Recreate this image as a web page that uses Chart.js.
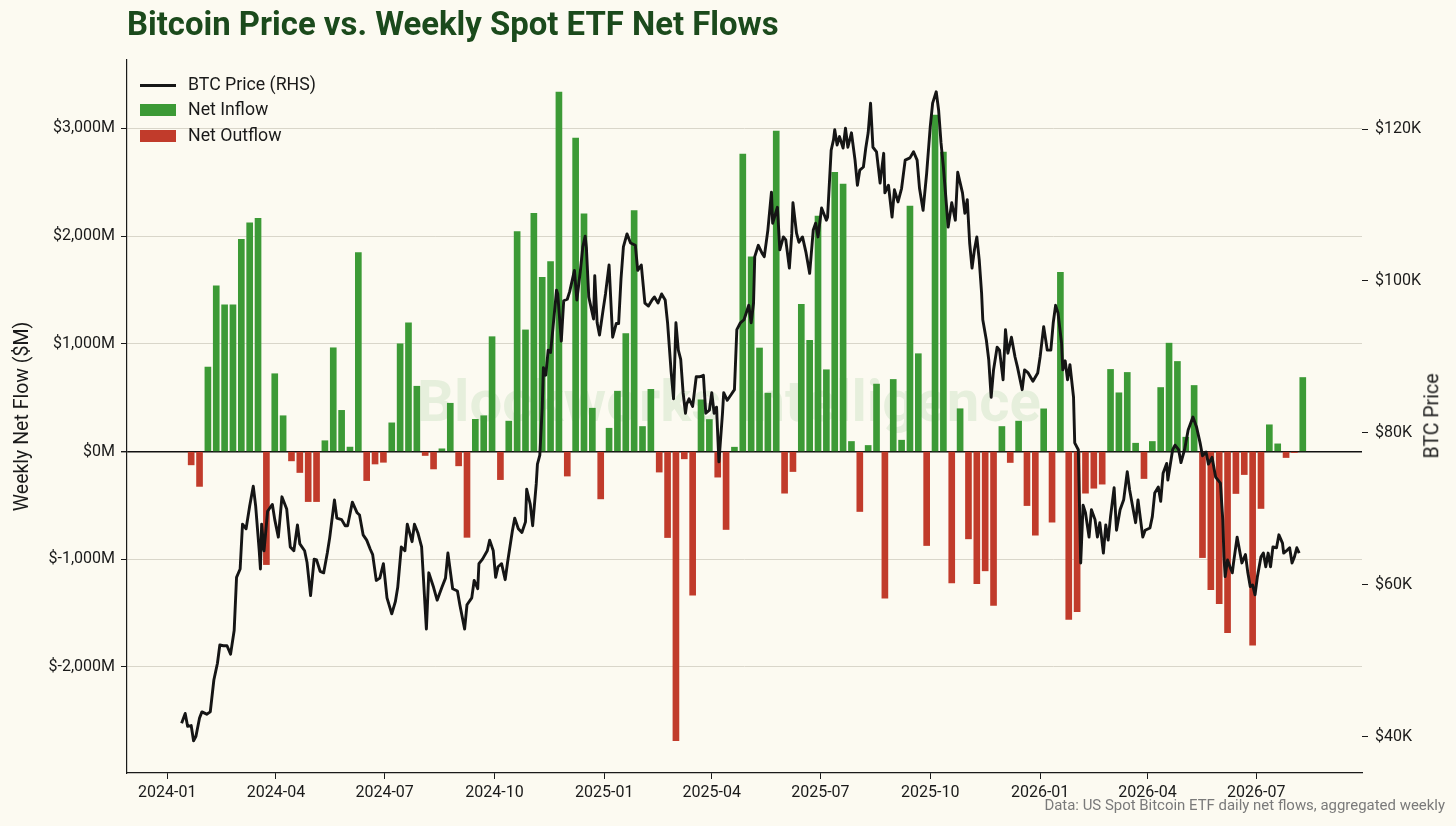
<!DOCTYPE html>
<html>
<head>
<meta charset="utf-8">
<title>Bitcoin Price vs. Weekly Spot ETF Net Flows</title>
<script src="https://cdn.jsdelivr.net/npm/chart.js@4.4.1/dist/chart.umd.min.js"></script>
<style>
  html, body { margin: 0; padding: 0; background: #fcfaf1; }
  #wrap { position: relative; width: 1456px; height: 826px; overflow: hidden; font-family: Roboto, "DejaVu Sans", sans-serif; color: #1a1a1a; }
  #wrap canvas { position: absolute; left: 0; top: 0; }
  .t { position: absolute; white-space: nowrap; line-height: 1; }
  #title { font-weight: 700; color: #1b4a1c; font-size: 28px; }
  #mark { font-weight: 700; color: rgba(70, 165, 70, 0.12); font-size: 48px; }
  #source { color: #7a7a7a; font-size: 14px; }
  .leg { font-size: 17px; }
  .sw { position: absolute; left: 140px; width: 36px; }
  #ylab2 { font-size: 19.5px; left: 1432px; top: 416px; transform: translate(-50%, -50%) rotate(-90deg); }
</style>
</head>
<body>
<div id="wrap">
  <div class="t" id="mark">Blockworks Intelligence</div>
  <canvas id="c" width="1456" height="826"></canvas>
  <div class="t" id="title">Bitcoin Price vs. Weekly Spot ETF Net Flows</div>
  <div class="sw" style="top:83.5px;height:3px;background:#161616"></div>
  <div class="sw" style="top:104px;height:12px;background:#3c9a36"></div>
  <div class="sw" style="top:130px;height:12px;background:#c13b2b"></div>
  <div class="t leg" id="leg1">BTC Price (RHS)</div>
  <div class="t leg" id="leg2">Net Inflow</div>
  <div class="t leg" id="leg3">Net Outflow</div>
  <div class="t" id="ylab2">BTC Price</div>
  <div class="t" id="source">Data: US Spot Bitcoin ETF daily net flows, aggregated weekly</div>
</div>
<script>
// x-axis tick labels (quarter starts)
const dateTicks = ['2024-01', '2024-04', '2024-07', '2024-10', '2025-01', '2025-04',
                   '2025-07', '2025-10', '2026-01', '2026-04', '2026-07'];
const flowTicks = [-2000, -1000, 0, 1000, 2000, 3000];   // $M
const priceTicks = [40, 60, 80, 100, 120];               // $K

// weekly net flows, $M, one per week starting from firstWeek
const firstWeek = '2024-01-21';
const weeklyFlows = [
  -124, -324, 784, 1539, 1361, 1361, 1971, 2124, 2166, -1050,
  722, 332, -87, -195, -465, -465, 100, 963, 382, 41,
  1846, -270, -116, -100, 266, 1000, 1195, 606, -37, -162,
  25, 448, -133, -797, 299, 332, 1066, -261, 282, 2041,
  1129, 2212, 1618, 1763, 3336, -228, 2909, 2207, 402, -440,
  216, 560, 1095, 2237, 232, 577, -191, -799, -2684, -68,
  -1334, 480, 297, -238, -724, 40, 2761, 1807, 961, 542,
  2975, -387, -186, 1367, 1032, 2185, 759, 2591, 2482, 93,
  -557, 56, 626, -1362, 669, 105, 2278, 908, -873, 3124,
  2780, -1220, 397, -811, -1226, -1108, -1430, 232, -102, 282,
  -502, -777, 396, -656, 1663, -1560, -1486, -387, -341, -303,
  762, 545, 734, 77, -251, 93, 594, 1006, 836, 133,
  613, -985, -1282, -1412, -1681, -390, -214, -1799, -529, 248,
  71, -56, -10, 687
];

// BTC price, $K
const priceDates = [
  '2024-01-13','2024-01-16','2024-01-18','2024-01-21','2024-01-23','2024-01-25','2024-01-28','2024-01-30',
  '2024-02-03','2024-02-06','2024-02-09','2024-02-12','2024-02-14','2024-02-17','2024-02-20','2024-02-23','2024-02-26','2024-02-28',
  '2024-03-02','2024-03-04','2024-03-07','2024-03-10','2024-03-13','2024-03-15','2024-03-18','2024-03-19','2024-03-20','2024-03-22','2024-03-25','2024-03-29','2024-03-31',
  '2024-04-03','2024-04-06','2024-04-10','2024-04-13','2024-04-16','2024-04-19','2024-04-21','2024-04-25','2024-04-27','2024-04-30',
  '2024-05-03','2024-05-05','2024-05-08','2024-05-11','2024-05-14','2024-05-16','2024-05-20','2024-05-22','2024-05-26','2024-05-29','2024-05-31',
  '2024-06-04','2024-06-08','2024-06-10','2024-06-13','2024-06-16','2024-06-19','2024-06-21','2024-06-24','2024-06-27','2024-06-30',
  '2024-07-03','2024-07-07','2024-07-10','2024-07-12','2024-07-15','2024-07-18','2024-07-20','2024-07-24','2024-07-26','2024-07-29',
  '2024-08-01','2024-08-05','2024-08-07','2024-08-11','2024-08-14','2024-08-18','2024-08-21','2024-08-23','2024-08-27','2024-08-31',
  '2024-09-02','2024-09-06','2024-09-08','2024-09-12','2024-09-14','2024-09-17','2024-09-18','2024-09-21','2024-09-25','2024-09-27','2024-09-30',
  '2024-10-02','2024-10-04','2024-10-07','2024-10-10','2024-10-12','2024-10-16','2024-10-18','2024-10-21','2024-10-24','2024-10-27','2024-10-28','2024-10-31',
  '2024-11-02','2024-11-05','2024-11-06','2024-11-08','2024-11-10','2024-11-11','2024-11-13','2024-11-15','2024-11-17','2024-11-19','2024-11-22','2024-11-23','2024-11-26','2024-11-28',
  '2024-12-01','2024-12-03','2024-12-07','2024-12-09','2024-12-12','2024-12-14','2024-12-16','2024-12-17','2024-12-19','2024-12-23','2024-12-24','2024-12-26','2024-12-28','2024-12-31',
  '2025-01-02','2025-01-05','2025-01-07','2025-01-08','2025-01-11','2025-01-13','2025-01-15','2025-01-17','2025-01-20','2025-01-23','2025-01-27','2025-01-29',
  '2025-02-01','2025-02-04','2025-02-07','2025-02-10','2025-02-12','2025-02-15','2025-02-18','2025-02-21','2025-02-23','2025-02-26','2025-02-28',
  '2025-03-02','2025-03-04','2025-03-06','2025-03-08','2025-03-10','2025-03-11','2025-03-13','2025-03-16','2025-03-19','2025-03-22','2025-03-25','2025-03-27','2025-03-30',
  '2025-04-01','2025-04-03','2025-04-05','2025-04-07','2025-04-10','2025-04-11','2025-04-14','2025-04-17','2025-04-20','2025-04-22','2025-04-25','2025-04-28',
  '2025-05-02','2025-05-04','2025-05-06','2025-05-07','2025-05-10','2025-05-13','2025-05-15','2025-05-18','2025-05-21','2025-05-22','2025-05-26','2025-05-28','2025-05-31',
  '2025-06-02','2025-06-05','2025-06-07','2025-06-08','2025-06-11','2025-06-13','2025-06-16','2025-06-19','2025-06-22','2025-06-25','2025-06-27','2025-06-29',
  '2025-07-02','2025-07-06','2025-07-07','2025-07-10','2025-07-12','2025-07-13','2025-07-15','2025-07-17','2025-07-20','2025-07-22','2025-07-24','2025-07-27','2025-07-30',
  '2025-08-01','2025-08-03','2025-08-06','2025-08-08','2025-08-10','2025-08-12','2025-08-14','2025-08-17','2025-08-20','2025-08-23','2025-08-24','2025-08-27','2025-08-30',
  '2025-09-01','2025-09-04','2025-09-07','2025-09-10','2025-09-14','2025-09-17','2025-09-20','2025-09-22','2025-09-25','2025-09-28',
  '2025-10-01','2025-10-03','2025-10-06','2025-10-08','2025-10-10','2025-10-12','2025-10-14','2025-10-16','2025-10-19','2025-10-22','2025-10-24','2025-10-28','2025-10-30',
  '2025-11-01','2025-11-03','2025-11-05','2025-11-07','2025-11-09','2025-11-11','2025-11-13','2025-11-14','2025-11-17','2025-11-19','2025-11-21','2025-11-23','2025-11-26','2025-11-28',
  '2025-12-01','2025-12-03','2025-12-05','2025-12-08','2025-12-11','2025-12-13','2025-12-17','2025-12-19','2025-12-22','2025-12-26','2025-12-30',
  '2026-01-01','2026-01-04','2026-01-07','2026-01-10','2026-01-12','2026-01-14','2026-01-16','2026-01-19','2026-01-20','2026-01-22','2026-01-24','2026-01-26','2026-01-29','2026-01-30',
  '2026-02-02','2026-02-03','2026-02-04','2026-02-06','2026-02-08','2026-02-11','2026-02-13','2026-02-16','2026-02-18','2026-02-20','2026-02-23','2026-02-25','2026-02-27',
  '2026-03-01','2026-03-04','2026-03-06','2026-03-09','2026-03-12','2026-03-15','2026-03-17','2026-03-20','2026-03-22','2026-03-24','2026-03-28','2026-03-30',
  '2026-04-03','2026-04-05','2026-04-07','2026-04-10','2026-04-12','2026-04-14','2026-04-17','2026-04-18','2026-04-22','2026-04-24','2026-04-27','2026-04-29',
  '2026-05-02','2026-05-05','2026-05-09','2026-05-12','2026-05-15','2026-05-17','2026-05-20','2026-05-22','2026-05-25','2026-05-28','2026-05-30',
  '2026-06-01','2026-06-03','2026-06-04','2026-06-05','2026-06-07','2026-06-09','2026-06-11','2026-06-12','2026-06-15','2026-06-17','2026-06-19','2026-06-22','2026-06-24','2026-06-26','2026-06-28','2026-06-30',
  '2026-07-02','2026-07-05','2026-07-07','2026-07-09','2026-07-11','2026-07-13','2026-07-15','2026-07-18','2026-07-20','2026-07-23','2026-07-24','2026-07-27','2026-07-29','2026-07-31',
  '2026-08-02','2026-08-04','2026-08-06'
];
const priceK = [
  41.8, 43.1, 41.4, 41.5, 39.5, 40.1, 42.5, 43.3,
  43.0, 43.3, 47.5, 49.7, 52.1, 52.0, 52.0, 50.9, 54.0, 61.0,
  62.1, 68.0, 67.4, 70.4, 73.0, 70.4, 64.5, 62.1, 68.0, 64.5, 69.7, 70.6, 68.6,
  66.3, 71.6, 70.0, 65.0, 64.5, 67.9, 65.4, 64.5, 63.0, 58.6,
  63.4, 63.3, 61.8, 61.6, 64.2, 66.2, 71.2, 68.8, 68.6, 67.8, 67.8,
  70.9, 69.5, 69.2, 66.6, 65.9, 64.7, 64.0, 60.6, 60.9, 62.8,
  58.3, 56.2, 57.8, 59.7, 65.0, 64.5, 68.0, 65.7, 68.0, 66.8,
  65.0, 54.2, 61.6, 59.7, 58.0, 59.7, 60.9, 64.2, 59.5, 59.2,
  57.4, 54.2, 57.4, 58.3, 60.6, 59.5, 62.8, 63.4, 64.5, 65.9, 64.5,
  61.0, 62.4, 62.8, 60.7, 63.0, 67.1, 68.8, 67.4, 66.9, 68.3, 72.6, 70.6,
  67.8, 73.3, 75.9, 77.1, 83.3, 88.6, 87.6, 90.9, 90.6, 93.8, 98.8, 98.3, 92.1, 97.4,
  97.6, 98.6, 101.4, 97.5, 101.4, 104.5, 105.9, 104.4, 97.9, 95.0, 100.7, 94.5, 92.9, 96.2,
  98.3, 102.1, 95.7, 92.6, 94.4, 94.4, 100.3, 104.5, 106.2, 105.0, 104.7, 101.4,
  102.1, 97.1, 96.7, 97.5, 97.9, 97.1, 98.3, 97.5, 94.5, 88.0, 84.5,
  94.5, 90.9, 89.7, 85.3, 82.6, 83.8, 84.5, 83.5, 87.4, 87.4, 87.6, 82.6, 83.0,
  85.3, 82.6, 83.4, 76.2, 82.6, 85.3, 84.3, 85.0, 85.7, 93.6, 94.5, 94.9,
  96.8, 94.5, 97.1, 103.2, 104.7, 103.7, 103.2, 106.7, 111.7, 107.6, 109.7, 104.1, 105.8,
  105.4, 101.7, 106.2, 110.3, 106.3, 105.1, 105.8, 103.7, 101.0, 106.7, 107.6, 105.8,
  109.6, 108.0, 108.4, 117.2, 118.6, 119.9, 117.9, 119.0, 117.5, 120.1, 117.6, 119.5, 115.9,
  112.6, 114.6, 115.0, 117.5, 119.5, 123.4, 117.6, 117.0, 112.9, 116.8, 111.6, 112.6, 108.4,
  112.0, 110.4, 112.2, 115.9, 116.2, 117.0, 115.9, 112.2, 109.3, 114.2,
  120.3, 123.4, 124.9, 122.5, 118.2, 115.0, 111.1, 107.1, 110.3, 108.0, 114.3, 111.6, 108.9,
  110.7, 105.0, 101.7, 104.1, 105.8, 102.8, 98.4, 94.9, 92.2, 89.6, 84.7, 88.3, 91.3, 90.9,
  87.0, 93.6, 90.5, 92.6, 90.0, 88.7, 85.7, 88.3, 87.9, 86.8, 87.9,
  90.0, 94.0, 90.9, 90.9, 94.5, 96.8, 95.8, 91.8, 88.3, 89.5, 87.0, 89.0, 84.7, 78.7,
  77.8, 70.3, 62.9, 70.5, 69.5, 66.3, 69.9, 68.6, 66.3, 68.2, 64.2, 67.9, 65.9,
  69.0, 72.8, 67.2, 69.9, 71.2, 74.9, 72.5, 69.9, 68.2, 71.2, 66.3, 67.2,
  67.5, 69.0, 72.1, 72.9, 71.0, 74.7, 76.0, 73.8, 77.8, 78.4, 77.8, 76.1,
  77.8, 80.4, 82.1, 80.8, 78.7, 77.0, 77.5, 75.9, 76.8, 74.2, 73.8,
  73.4, 68.6, 63.7, 61.1, 63.3, 62.4, 61.6, 62.9, 66.3, 64.6, 62.9, 64.0, 61.6, 59.8, 60.0, 58.7,
  61.1, 63.7, 64.2, 62.4, 64.2, 62.4, 65.0, 64.9, 66.6, 65.5, 64.2, 64.6, 64.9, 62.9,
  63.7, 64.9, 64.2
];

// dates -> days since 2024-01-01 (numeric x axis)
const DAY = 86400000;
const BASE = Date.UTC(2024, 0, 1);
const toDay = s => (Date.parse(s + 'T00:00:00Z') - BASE) / DAY;
const monthLabel = v => {
  const d = new Date(BASE + v * DAY);
  return d.getUTCFullYear() + '-' + String(d.getUTCMonth() + 1).padStart(2, '0');
};

const week0 = toDay(firstWeek);
const inflow = [], outflow = [];
weeklyFlows.forEach((v, i) => {
  const pt = { x: week0 + 7 * i, y: v };
  (v >= 0 ? inflow : outflow).push(pt);
});
const pricePoints = priceDates.map((d, i) => ({ x: toDay(d), y: priceK[i] }));

const INK = '#1a1a1a';
Chart.defaults.font.family = 'Roboto, "DejaVu Sans", sans-serif';
Chart.defaults.color = INK;

new Chart(document.getElementById('c'), {
  type: 'bar',
  data: {
    datasets: [
      {
        type: 'line', label: 'BTC Price (RHS)', data: pricePoints, yAxisID: 'yPrice',
        borderColor: '#151515', borderWidth: 2.9, pointRadius: 0, tension: 0,
        borderJoinStyle: 'round', order: 0
      },
      {
        label: 'Net Inflow', data: inflow, yAxisID: 'yFlow',
        backgroundColor: '#3c9a36', barThickness: 6, grouped: false, order: 1
      },
      {
        label: 'Net Outflow', data: outflow, yAxisID: 'yFlow',
        backgroundColor: '#c13b2b', barThickness: 6, grouped: false, order: 1
      }
    ]
  },
  options: {
    responsive: false,
    animation: false,
    layout: { padding: { top: 60, left: 0, right: 0, bottom: 0 } },
    plugins: { legend: { display: false }, tooltip: { enabled: false } },
    scales: {
      x: {
        type: 'linear', position: 'bottom', min: -33.75, max: 1000.6, offset: false,
        afterBuildTicks: s => { s.ticks = dateTicks.map(l => ({ value: toDay(l + '-01') })); },
        afterFit: s => { s.height = 53; },
        ticks: { callback: v => monthLabel(v), font: { size: 16 }, padding: 4, maxRotation: 0, autoSkip: false },
        grid: { offset: false, drawOnChartArea: false, drawTicks: true, tickLength: 6, color: INK },
        border: { display: true, color: INK, width: 1.2 }
      },
      yFlow: {
        position: 'left', min: -2985, max: 3635,
        afterBuildTicks: s => { s.ticks = flowTicks.map(v => ({ value: v })); },
        afterFit: s => { s.width = 127; },
        ticks: { callback: v => '$' + v.toLocaleString('en-US') + 'M', font: { size: 16 }, padding: 6 },
        grid: {
          color: c => (c.tick && c.tick.value === 0 ? '#111111' : '#d9d6ca'),
          lineWidth: c => (c.tick && c.tick.value === 0 ? 1.4 : 1),
          tickColor: INK, tickLength: 6
        },
        border: { display: true, color: INK, width: 1.2 },
        title: { display: true, text: 'Weekly Net Flow ($M)', font: { size: 19.5 }, padding: { top: 11, bottom: 0 } }
      },
      yPrice: {
        position: 'right', min: 35.26, max: 129.08,
        afterBuildTicks: s => { s.ticks = priceTicks.map(v => ({ value: v })); },
        afterFit: s => { s.width = 94; },
        ticks: { callback: v => '$' + v + 'K', font: { size: 16 }, padding: 7 },
        grid: { drawOnChartArea: false, drawTicks: true, tickLength: 6, color: INK },
        border: { display: false }
      }
    }
  }
});

// place the html text: scale font to a target width, then set baseline
function place(id, width, baseline, anchor, ax) {
  const el = document.getElementById(id);
  let fs = parseFloat(getComputedStyle(el).fontSize);
  if (width) {
    fs = fs * width / el.getBoundingClientRect().width;
    el.style.fontSize = fs + 'px';
  }
  const w = el.getBoundingClientRect().width;
  el.style.top = (baseline - 0.842 * fs) + 'px';
  el.style.left = (anchor === 'left' ? ax : anchor === 'right' ? ax - w : ax - w / 2) + 'px';
  return fs;
}
place('title', 652, 36, 'left', 127);
place('mark', 624, 421, 'center', 729);
place('source', 401, 811, 'right', 1445);
const lf = place('leg1', 128, 85 + 0.355 * 17, 'left', 188);
['leg2', 'leg3'].forEach((id, i) => {
  document.getElementById(id).style.fontSize = lf + 'px';
  place(id, 0, [110, 136][i] + 0.355 * lf, 'left', 188);
});
</script>
</body>
</html>
